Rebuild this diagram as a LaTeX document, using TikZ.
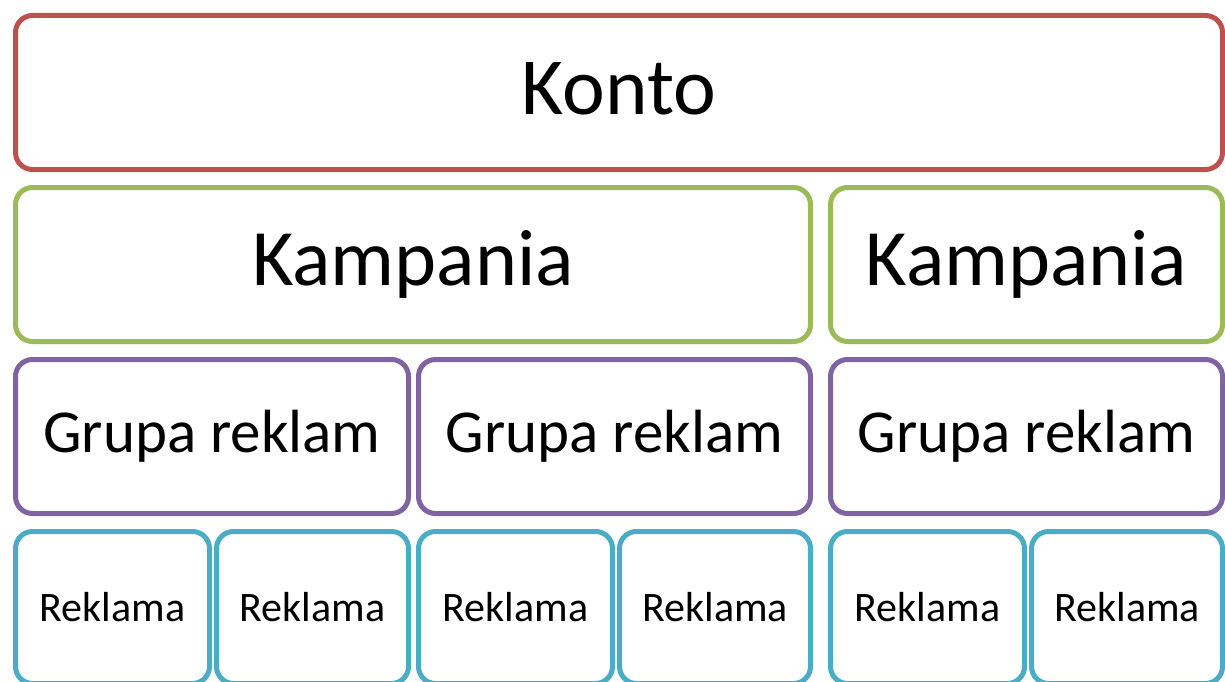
\documentclass[tikz,border=0pt]{standalone}
\usepackage{fontspec}
\setmainfont{Carlito}
\definecolor{kontoc}{HTML}{C0504D}
\definecolor{kampc}{HTML}{9BBB59}
\definecolor{grupac}{HTML}{8064A2}
\definecolor{reklc}{HTML}{4BACC6}
\begin{document}
\begin{tikzpicture}[x=1pt,y=-1pt,
  box/.style={draw, line width=5pt, rounded corners=17pt, fill=white,
    anchor=north west, inner sep=0pt, text=black},
  kontobox/.style={box, draw=kontoc, font=\fontsize{81}{88}\selectfont, text depth=7pt},
  kampbox/.style={box, draw=kampc, font=\fontsize{80}{86}\selectfont},
  grupabox/.style={box, draw=grupac, font=\fontsize{61}{66}\selectfont},
  reklbox/.style={box, draw=reklc, font=\fontsize{42}{48}\selectfont}]
\useasboundingbox (0,0) rectangle (1225,682);
\clip (0,0) rectangle (1225,682);
% account
\node[kontobox, minimum width=1207pt, minimum height=154pt] (konto) at (13,13) {Konto};
% campaigns
\node[kampbox, minimum width=795pt, minimum height=154pt] (kamp1) at (13,185) {Kampania};
\node[kampbox, minimum width=392pt, minimum height=154pt] (kamp2) at (828,185) {Kampania};
% ad groups
\node[grupabox, minimum width=393pt, minimum height=154pt] (grupa1) at (13,357) {Grupa reklam};
\node[grupabox, minimum width=392pt, minimum height=154pt] (grupa2) at (416,357) {Grupa reklam};
\node[grupabox, minimum width=392pt, minimum height=154pt] (grupa3) at (828,357) {Grupa reklam};
% ads
\node[reklbox, minimum width=194pt, minimum height=152pt] (r1) at (13,529) {Reklama};
\node[reklbox, minimum width=192pt, minimum height=152pt] (r2) at (214,529) {Reklama};
\node[reklbox, minimum width=194pt, minimum height=152pt] (r3) at (416,529) {Reklama};
\node[reklbox, minimum width=191pt, minimum height=152pt] (r4) at (617,529) {Reklama};
\node[reklbox, minimum width=194pt, minimum height=152pt] (r5) at (828,529) {Reklama};
\node[reklbox, minimum width=191pt, minimum height=152pt] (r6) at (1029,529) {Reklama};
\end{tikzpicture}
\end{document}
